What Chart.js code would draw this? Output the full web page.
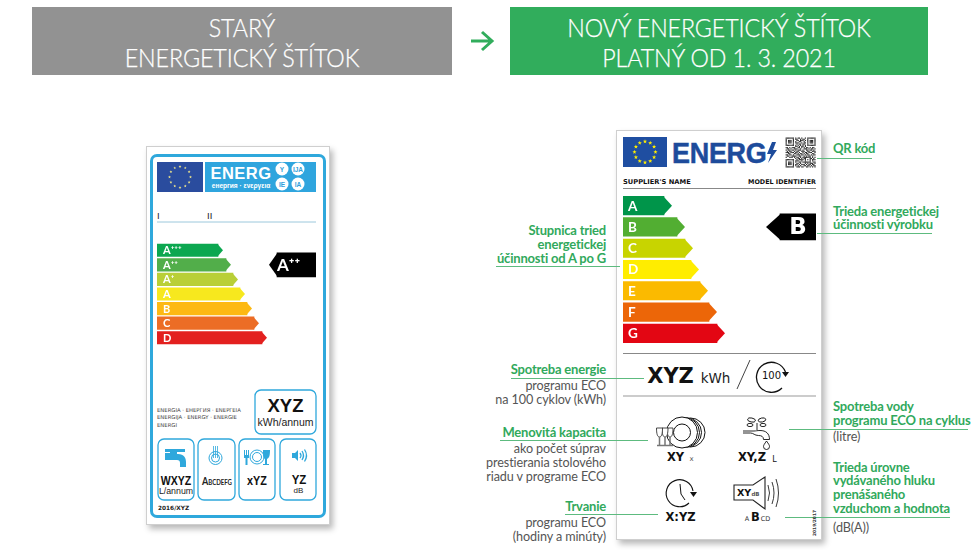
<!DOCTYPE html>
<html lang="sk"><head><meta charset="utf-8">
<script src="https://cdn.jsdelivr.net/npm/chart.js@4"></script>
<style>
html,body{margin:0;padding:0;background:#fff;width:980px;height:550px;overflow:hidden;font-family:Lato,"Open Sans",sans-serif}
#page{position:absolute;left:0;top:0;width:980px;height:550px}
.box{position:absolute}
canvas.c{position:absolute}
svg{position:absolute;left:0;top:0}
.t{position:absolute;white-space:pre;line-height:1}
.g{color:#31a95c;font-weight:700;font-size:13px;letter-spacing:-.2px}
.k{color:#555;font-size:12.6px;letter-spacing:-.1px}
.h{color:#fff;font-size:24.6px;font-weight:300;letter-spacing:-.1px;-webkit-text-stroke:.25px #fff}
.b{font-family:"DejaVu Sans";font-weight:700;color:#111}
</style></head><body><div id="page">
<div class="box" style="left:32px;top:7px;width:420px;height:68px;background:#929292"></div>
<div class="box" style="left:510px;top:7px;width:418px;height:68px;background:#31ad5c"></div>
<div class="box" style="left:146px;top:146px;width:182px;height:377px;background:#fff;border:1px solid #cfcfcf;box-shadow:3px 4px 6px rgba(0,0,0,.28)"></div>
<div class="box" style="left:150px;top:154px;width:170px;height:358px;border:3px solid #2fa8dc;border-radius:7px"></div>
<div class="box" style="left:616px;top:130px;width:204px;height:408px;background:#fff;border:1px solid #cfcfcf;box-shadow:3px 4px 6px rgba(0,0,0,.28)"></div>
<svg id="art" width="980" height="550" xmlns="http://www.w3.org/2000/svg"></svg>
<canvas class="c" id="oldChart" width="159" height="102" style="left:157px;top:243px;width:159px;height:102px"></canvas>
<canvas class="c" id="newChart" width="193" height="149" style="left:623px;top:195px;width:193px;height:149px"></canvas>
</div>
<script>
// ---- chart data ----
const oldClasses = ['A⁺⁺⁺','A⁺⁺','A⁺','A','B','C','D'];
const oldLengths = [61,69,76,83,90,97,105];
const oldColors  = ['#0ca750','#52ae4a','#b9cf37','#f7e81e','#fdb913','#ec6d25','#e3201f'];
const oldRating  = 'A⁺⁺';
const oldRatingSpan = [120,159];

const newClasses = ['A','B','C','D','E','F','G'];
const newLengths = [41,54,62,68,77,86,94];
const newColors  = ['#00954a','#52ae32','#c8d400','#ffed00','#fbba00','#ec6608','#e30613'];
const newRating  = 'B';
const newRatingSpan = [157,193];

// ---- texts ----
const headOld = ['STARÝ','ENERGETICKÝ ŠTÍTOK'];
const headNew = ['NOVÝ ENERGETICKÝ ŠTÍTOK','PLATNÝ OD 1. 3. 2021'];

const arrowTip = {
  id:'arrowTip',
  afterDatasetsDraw(chart,args,opts){
    const c = chart.ctx;
    chart.data.datasets.forEach((ds,di)=>{
      chart.getDatasetMeta(di).data.forEach((el,i)=>{
        const v = ds.data[i]; if(v===null) return;
        const p = el.getProps(['x','y','base','height'],true);
        const top=p.y-p.height/2, bot=p.y+p.height/2;
        c.save();
        const col = Array.isArray(ds.backgroundColor)?ds.backgroundColor[i]:ds.backgroundColor;
        c.fillStyle = col;
        c.beginPath();
        c.textBaseline='middle';
        if(ds.rating){
          c.moveTo(p.base+.5,top);c.lineTo(p.base-opts.ratingTip,p.y);c.lineTo(p.base+.5,bot);
          c.closePath();c.fill();
          c.fillStyle='#fff';c.font=opts.ratingFont;c.textAlign='center';
          c.fillText(ds.rating,(p.base+p.x)/2+opts.ratingShift,p.y+1);
        } else {
          c.moveTo(p.x-.5,top);c.lineTo(p.x+opts.tip,p.y);c.lineTo(p.x-.5,bot);
          c.closePath();c.fill();
          c.fillStyle='#fff';c.font=opts.labelFont;c.textAlign='left';
          c.fillText(chart.data.labels[i],p.base+opts.labelPad,p.y+.5);
        }
        c.restore();
      });
    });
  }
};
function energyChart(id,labels,lengths,colors,rating,span,rows){
  const mark = labels.map(l=>l===rating?span:null);
  new Chart(document.getElementById(id),{
    type:'bar',
    data:{labels,datasets:[
      {data:lengths,backgroundColor:colors,barThickness:rows.bar,grouped:false,borderWidth:0},
      {data:mark,backgroundColor:'#000',barThickness:rows.mark,grouped:false,borderWidth:0,rating}
    ]},
    options:{
      indexAxis:'y',responsive:false,animation:false,devicePixelRatio:1,
      layout:{padding:0},
      plugins:{legend:{display:false},tooltip:{enabled:false},arrowTip:rows.tipOpts},
      scales:{ x:{display:false,min:0,max:rows.max}, y:{display:false} }
    },
    plugins:[arrowTip]
  });
}
energyChart('oldChart',oldClasses,oldLengths,oldColors,oldRating,oldRatingSpan,
  {bar:12.5,mark:24,max:159,tipOpts:{tip:5,ratingTip:8,ratingFont:'bold 17px Lato',ratingShift:-8,labelFont:'bold 11px Lato',labelPad:6}});
energyChart('newChart',newClasses,newLengths,newColors,newRating,newRatingSpan,
  {bar:18.5,mark:26,max:193,tipOpts:{tip:8,ratingTip:14,ratingFont:'bold 23px "DejaVu Sans"',ratingShift:0,labelFont:'bold 13.5px Lato',labelPad:5}});

// ---- text placement ----
const page=document.getElementById('page');
function put(s,x,y,cls,align,extra,sx,rot){
  const d=document.createElement('div');d.className='t '+cls;d.textContent=s;
  const tx=align==='r'?'-100%':align==='c'?'-50%':'0';
  const org=align==='r'?'right':align==='c'?'center':'left';
  d.style.cssText=`left:${x}px;top:${y}px;text-align:${org};transform-origin:${org} center;transform:translate(${tx},-50%) ${sx?`scaleX(${sx})`:''} ${rot?`rotate(${rot}deg)`:''};`+(extra||'');
  page.appendChild(d);return d;
}
put(headOld[0],242,28,'h','c','',.947);put(headOld[1],242,58,'h','c','',.947);
put(headNew[0],719,28,'h','c','',.944);put(headNew[1],719,58,'h','c','',.944);

// left annotations
const lh='line-height:14.2px';
put('Stupnica tried\nenergetickej\núčinnosti od A po G',606,243.5,'g','r',lh);
put('Spotreba energie',606,369,'g','r');
put('Menovitá kapacita',606,432,'g','r');
put('Trvanie',606,506,'g','r');
put('programu ECO\nna 100 cyklov (kWh)',606,393,'k','r',lh);
put('ako počet súprav\nprestierania stolového\nriadu v programe ECO',606,463,'k','r',lh);
put('programu ECO\n(hodiny a minúty)',606,530,'k','r',lh);
// right annotations
put('QR kód',833,148,'g','l');
put('Trieda energetickej\núčinnosti výrobku',833,218.7,'g','l','line-height:13.6px');
put('Spotreba vody\nprogramu ECO na cyklus',833,413,'g','l',lh);
put('Trieda úrovne\nvydávaného hluku\nprenášaného\nvzduchom a hodnota',833,487.5,'g','l','line-height:13.7px');
put('(litre)',833,437,'k','l');put('(dB(A))',833,528,'k','l');

// old label texts
put('ENERG',241,173,'t','c','color:#fff;font:700 16.5px "Liberation Sans";letter-spacing:.5px');
put('енергия · ενεργεια',241,184.5,'t','c','color:#fff;font:700 6.6px "Liberation Sans"');
[['Y',282,169],['IJA',298,169],['IE',282,184],['IA',298,184]].forEach(a=>
  put(a[0],a[1],a[2],'t','c','color:#2fa0dc;font:700 6.5px "Liberation Sans"'));
put('I',157,215,'t','l','color:#222;font:400 9.5px "Liberation Sans"');
put('II',207,215,'t','l','color:#222;font:400 9.5px "Liberation Sans"');
put('ENERGIA · ЕНЕРГИЯ · ΕΝΕΡΓΕΙΑ\nENERGIJA · ENERGY · ENERGIE\nENERGI',157,418.7,'t','l','color:#444;font:400 5.3px/7.7px "DejaVu Sans"');
put('XYZ',285.5,406,'t','c','color:#111;font:700 18.5px/16px "Liberation Sans"');
put('kWh/annum',285.5,421.5,'t','c','color:#222;font:400 10.5px/10px "Liberation Sans"');
put('WXYZ',175.5,479.5,'t','c','color:#111;font:700 13.5px "Liberation Sans"',.78);
put('L/annum',176,491,'t','c','color:#222;font:400 8.8px "Liberation Sans"');
put('Abcdefg',216.5,480.5,'t','c','color:#222;font:700 10.5px Lato;font-variant:small-caps',.86);
put('xYZ',257,480,'t','c','color:#111;font:700 13.5px "Liberation Sans"',.8);
put('YZ',298.5,478.5,'t','c','color:#111;font:700 13.5px "Liberation Sans"',.85);
put('dB',298.5,490,'t','c','color:#222;font:400 8px "Liberation Sans"');
put('2016/XYZ',158,508,'t','l','color:#222;font:700 5.8px "DejaVu Sans"');

// new label texts
put('ENERG',671.5,152.5,'t','l','color:#1d4b9b;font:700 29px "Liberation Sans";-webkit-text-stroke:.5px #1d4b9b;letter-spacing:-.3px',.93);
put("SUPPLIER'S NAME",623,182,'b','l','font-size:6.7px');
put('MODEL IDENTIFIER',816,182,'b','r','font-size:6.4px');
put('XYZ',670.5,375.5,'t','c','color:#111;font:700 21px "DejaVu Sans"');
put('kWh',715.5,378,'t','c','color:#222;font:400 13.5px "DejaVu Sans"');
put('100',771.5,375,'t','c','color:#111;font:400 10px "DejaVu Sans"');
put('XY',675.5,458,'b','c','font-size:11.5px');
put('x',691.5,459,'t','c','color:#555;font:400 7px "DejaVu Sans"');
put('XY,Z',752,458,'b','c','font-size:11.5px');
put('L',774.5,459,'t','c','color:#111;font:400 8px "DejaVu Sans"');
put('X:YZ',680.5,518,'b','c','font-size:11.5px');
put('XY',744,493,'b','c','font-size:9.5px');
put('dB',755.5,494,'t','c','color:#555;font:700 5.5px "DejaVu Sans"');
put('A',747,518.5,'t','c','color:#333;font:400 6.5px "DejaVu Sans"');
put('B',755.5,517.5,'b','c','font-size:11.5px');
put('CD',765.5,518.5,'t','c','color:#333;font:400 6.5px "DejaVu Sans"');
put('2019/2017',813.5,522.5,'t','c','color:#333;font:700 4.4px "DejaVu Sans"',null,-90);

// ---- page art: flags, rules, icons ----
function star(cx,cy,r){let p=[];for(let i=0;i<10;i++){const a=-Math.PI/2+i*Math.PI/5,q=i%2?r*.42:r;p.push((cx+q*Math.cos(a)).toFixed(2)+','+(cy+q*Math.sin(a)).toFixed(2));}return p.join(' ');}
function stars(cx,cy,R,r,col){let s='';for(let i=0;i<12;i++){const a=i*Math.PI/6;s+=`<polygon fill="${col}" points="${star(cx+R*Math.cos(a),cy+R*Math.sin(a),r)}"/>`;}return s;}
const qrRows=[
'1111111010110100101111111','1000001011001011001000001','1011101001101110101011101','1011101010011001001011101',
'1011101011100101101011101','1000001001011011001000001','1111111010101010101111111','0000000011010110100000000',
'1101011100110101011010110','0110100111001001110101101','1011011010111010011011010','0101100101100111001100111',
'1110111011010010110111001','0011000110101101011000110','1101101001110110101101011','0110011110011001010110100',
'1001110101101011111110101','0000000010110101100011010','1111111001011110101010111','1000001011100100100010100',
'1011101010011011111110011','1011101001101000101011101','1011101011010111010110110','1000001010101001101101011',
'1111111001110110011010101'];
let qr='';qrRows.forEach((r,y)=>[...r].forEach((b,x)=>{if(b==='1')qr+=`<rect x="${785.6+x*1.2}" y="${137.5+y*1.2}" width="1.2" height="1.2" fill="#2a2a2a"/>`}));
const grn='#5dbb7f';
document.getElementById('art').innerHTML=`
<path d="M471 41H491M482 32l10 9-10 9" fill="none" stroke="#31ad5c" stroke-width="3"/>
<!-- old label -->
<rect x="157" y="162" width="46" height="30" fill="#2a4c9e"/>${stars(180,177,10.5,1.5,'#f2e88a')}
<rect x="205" y="162" width="111" height="30" fill="#2fa5de"/>
${[[282,169],[298,169],[282,184],[298,184]].map(c=>`<circle cx="${c[0]}" cy="${c[1]}" r="6.5" fill="#fff"/>`).join('')}
<path d="M157 222H316" stroke="#9cc8dc"/>
<g fill="#fff" stroke="#2fa8dc" stroke-width="1.3">
<rect x="255" y="390" width="61" height="44" rx="6"/>
<rect x="158" y="439" width="36" height="61" rx="6"/><rect x="198" y="439" width="37" height="61" rx="6"/>
<rect x="239" y="439" width="36" height="61" rx="6"/><rect x="280" y="439" width="36" height="61" rx="6"/></g>
<g fill="#2fa8dc"><path d="M165 449h20v3h-8v2h1c6 0 8 4 8 8v5h-6v-4c0-2-1-3-3-3h-12v-7h5v-1h-5z"/></g>
<g fill="none" stroke="#2fa8dc"><circle cx="215.500" cy="458" r="6.500"/><circle cx="215.500" cy="458" r="4"/>
<path d="M213.500 446v12M215.500 446v12M217.500 446v12" stroke-width=".8"/>
<circle cx="257" cy="457" r="7"/><circle cx="257" cy="457" r="4.500"/></g>
<g fill="#2fa8dc"><path d="M244 450h1v5h1v-5h1v5h1v-5h1v8h-1.500v7h-2v-7h-1.500z"/><path d="M263 450h7c0 6-1 8-3 9v5h2v1h-6v-1h2v-5c-2-1-2-4-2-9z"/>
<path d="M292 453h3l3-3v11l-3-3h-3z"/></g>
<g fill="none" stroke="#2fa8dc" stroke-width="1.3"><path d="M300 453q2 2.500 0 5M302 451q3 4.500 0 9M304.500 449.500q4 6 0 12"/></g>
<!-- new label -->
<rect x="623" y="137" width="44" height="30" fill="#1f4ea1"/>${stars(645,152,10.5,2.2,'#ffed00')}
<path d="M772 142l-5 12h4l-3 9 9-13h-4l3-8z" fill="#1d4b9b"/>${qr}
<path d="M623 188.500H816" stroke="#888"/><path d="M623 353.500H816" stroke="#888"/><path d="M623 396H816" stroke="#bbb" stroke-width="1.500"/>
<path d="M737 389L750 360" stroke="#444"/>
<path d="M782 388A15 15 0 1 1 785.500 372" fill="none" stroke="#111" stroke-width="1.300"/><path d="M782 372h7l-3.500 5z" fill="#111"/>
<g fill="none" stroke="#111">
<circle cx="690.500" cy="432.500" r="14.500"/><circle cx="687" cy="432.500" r="14.500" fill="#fff"/><circle cx="684.500" cy="432.500" r="15" fill="#fff"/><circle cx="682" cy="432.500" r="15.500" fill="#fff"/><circle cx="682" cy="432.500" r="8.500"/></g>
<g fill="#fff" stroke="#333" stroke-width=".9"><path d="M667 428h6c0 6-1 9-3 9s-3-3-3-9z"/><path d="M662 428h6c0 6-1 9-3 9s-3-3-3-9z"/><path d="M656.500 428h6c0 6-1 9-3 9s-3-3-3-9z"/></g>
<path d="M657 445.500h16M659.500 437v8M665 437v8M670 437v8" stroke="#777" stroke-width="1.500"/>
<g fill="none" stroke="#111" stroke-width=".9"><path d="M743 431h11c2 0 3-.5 6-.5 6 0 9.500 3 9.500 9h-6c0-3-2-4-5-4-4 0-5-2.500-8-2.500h-7.500"/>
<path d="M757 423v7"/><ellipse cx="751.500" cy="420" rx="4" ry="2" transform="rotate(12 751.500 420)"/><ellipse cx="762" cy="420" rx="3.800" ry="2" transform="rotate(-12 762 420)"/>
<ellipse cx="750" cy="425" rx="3" ry="1.600"/><ellipse cx="763" cy="425" rx="3" ry="1.600"/>
<path d="M766.500 441c-2 3-3 4-3 5.500a3 3 0 0 0 6 0c0-1.500-1-2.500-3-5.500z"/></g>
<g fill="none" stroke="#111"><path d="M689 503A13.500 13.500 0 1 1 693 491" stroke-width="1.100"/><path d="M680 484l1 10 4 6" stroke-width="1"/></g><path d="M690 492h7l-3.500 5z" fill="#111"/>
<g fill="none" stroke="#222"><path d="M734 485h19l12-8v32l-12-9h-19z" stroke-width="1.100"/><path d="M768 485q3 8 0 16M772 482q4 11 0 22M776 479q5 14 0 28" stroke-width=".9"/></g>
<!-- leader lines -->
<g stroke="${grn}" stroke-width="1" fill="none">
<path d="M496 266.500H620M511 378.500H644M500 440.500H648M565 514.500H658"/>
<path d="M817 158.500H872M817 233.500H932M789 429.500H968M785 517.500H950"/></g>`;
</script></body></html>
